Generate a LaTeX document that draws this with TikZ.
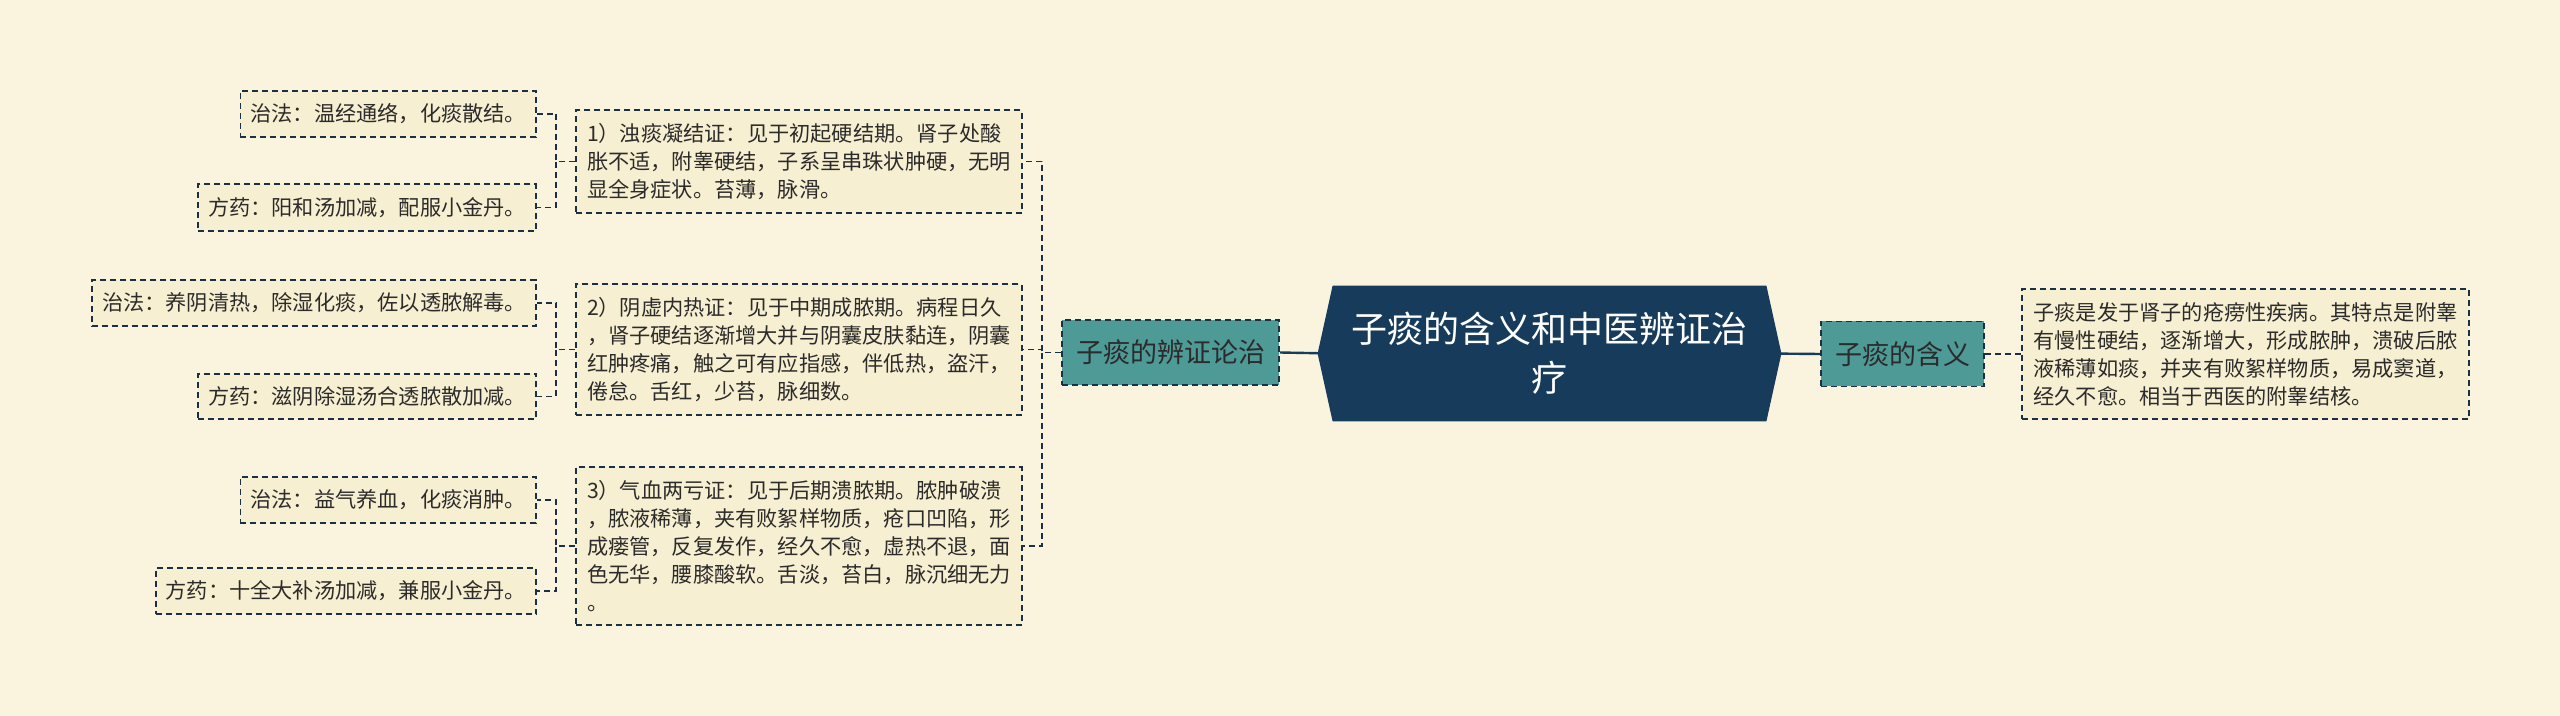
\documentclass[tikz,border=0pt]{standalone}
\usepackage{fontspec}
\setmainfont{Noto Sans CJK SC}
\usetikzlibrary{backgrounds}
\definecolor{bgcream}{HTML}{FAF4DF}
\definecolor{leafcream}{HTML}{F7EFD1}
\definecolor{rootnavy}{HTML}{173C5B}
\definecolor{branchteal}{HTML}{4E9A97}
\definecolor{edgenavy}{HTML}{1A3045}
\definecolor{inkgray}{HTML}{2B2B2B}

\begin{document}
\begin{tikzpicture}[x=0.5pt,y=-0.5pt]
\tikzstyle{every node}+=[inner sep=0pt]
\tikzstyle{dline}=[draw=edgenavy,line width=0.95pt,dash pattern=on 3pt off 2pt]
\tikzstyle{sline}=[draw=rootnavy,line width=1.2pt]
\tikzstyle{leaf}=[dline,fill=leafcream,text=inkgray,align=left,inner xsep=5pt,inner ysep=6.5pt,font=\fontsize{10.6}{14}\selectfont]
\tikzstyle{branch}=[dline,fill=branchteal,text=inkgray,inner xsep=7pt,minimum height=32.5pt,font=\fontsize{13.5}{16}\selectfont]
\useasboundingbox (0,0) rectangle (2560,716);
\node[text=white,align=center,minimum width=216.5pt,minimum height=67.5pt,font=\fontsize{18}{24.5}\selectfont] (root) at (1549.5,353.5) {子痰的含义和中医辨证治\\疗};
\node[branch] (bz) at (1170.5,352.5) {子痰的辨证论治};
\node[branch] (hy) at (1902.5,354) {子痰的含义};
\node[leaf,minimum width=223.5pt] (r1) at (2245.5,354) {子痰是发于肾子的疮痨性疾病。其特点是附睾\\有慢性硬结，逐渐增大，形成脓肿，溃破后脓\\液稀薄如痰，并夹有败絮样物质，易成窦道，\\经久不愈。相当于西医的附睾结核。};
\node[leaf,minimum width=223pt] (s1) at (799,161.5) {1）浊痰凝结证：见于初起硬结期。肾子处酸\\胀不适，附睾硬结，子系呈串珠状肿硬，无明\\显全身症状。苔薄，脉滑。};
\node[leaf,minimum width=223pt] (s2) at (799,349.5) {2）阴虚内热证：见于中期成脓期。病程日久\\，肾子硬结逐渐增大并与阴囊皮肤黏连，阴囊\\红肿疼痛，触之可有应指感，伴低热，盗汗，\\倦怠。舌红，少苔，脉细数。};
\node[leaf,minimum width=223pt] (s3) at (799,546) {3）气血两亏证：见于后期溃脓期。脓肿破溃\\，脓液稀薄，夹有败絮样物质，疮口凹陷，形\\成瘘管，反复发作，经久不愈，虚热不退，面\\色无华，腰膝酸软。舌淡，苔白，脉沉细无力\\。};
\node[leaf,anchor=east] (z1) at (537,114) {治法：温经通络，化痰散结。};
\node[leaf,anchor=east] (f1) at (537,207.5) {方药：阳和汤加减，配服小金丹。};
\node[leaf,anchor=east] (z2) at (537,303) {治法：养阴清热，除湿化痰，佐以透脓解毒。};
\node[leaf,anchor=east] (f2) at (537,396.5) {方药：滋阴除湿汤合透脓散加减。};
\node[leaf,anchor=east] (z3) at (537,500) {治法：益气养血，化痰消肿。};
\node[leaf,anchor=east] (f3) at (537,591) {方药：十全大补汤加减，兼服小金丹。};
\begin{scope}[on background layer]
\fill[bgcream] (0,0) rectangle (2560,716);
\draw[sline] (root.west) -- (bz.east);
\draw[sline] (root.east) -- (hy.west);
\fill[rootnavy] ([xshift=-7.5pt]root.west) -- (root.north west) -- (root.north east) -- ([xshift=7.5pt]root.east) -- (root.south east) -- (root.south west) -- cycle;
\draw[dline] (hy.east) -- (r1.west);
\draw[dline] (bz.west) -- ++(-9.5pt,0) |- (s1.east);
\draw[dline] (bz.west) -- ++(-9.5pt,0) |- (s2.east);
\draw[dline] (bz.west) -- ++(-9.5pt,0) |- (s3.east);
\draw[dline] (s1.west) -- ++(-9.5pt,0) |- (z1.east);
\draw[dline] (s1.west) -- ++(-9.5pt,0) |- (f1.east);
\draw[dline] (s2.west) -- ++(-9.5pt,0) |- (z2.east);
\draw[dline] (s2.west) -- ++(-9.5pt,0) |- (f2.east);
\draw[dline] (s3.west) -- ++(-9.5pt,0) |- (z3.east);
\draw[dline] (s3.west) -- ++(-9.5pt,0) |- (f3.east);
\end{scope}
\end{tikzpicture}
\end{document}
